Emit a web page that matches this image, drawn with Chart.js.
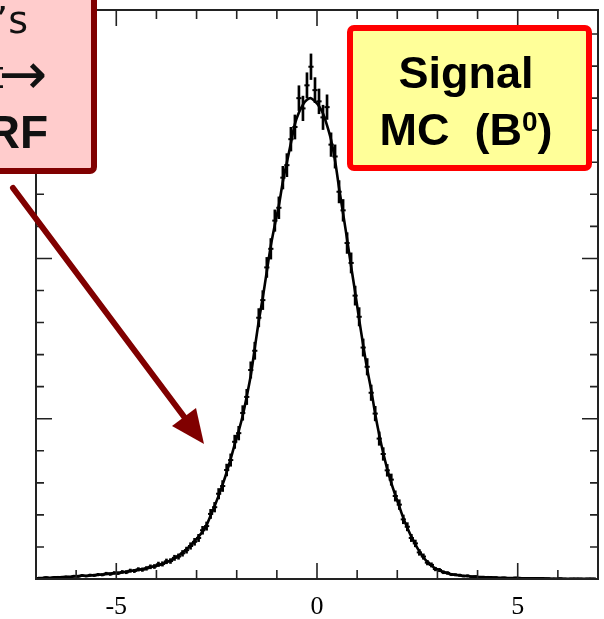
<!DOCTYPE html>
<html>
<head>
<meta charset="utf-8">
<script src="https://cdn.jsdelivr.net/npm/chart.js@4.4.1/dist/chart.umd.min.js"></script>
<style>
  html, body { margin: 0; padding: 0; background: #fff; }
  canvas { display: block; }
</style>
</head>
<body>
<canvas id="chart" width="604" height="619"></canvas>
<script>

// histogram binning (delta t, 140 bins of 0.1 from -7 to 7)
const binStart = -7;
const binWidth = 0.1;

// MC entries per bin
const mcCounts = [
    3, 2, 5, 3, 4, 6, 5, 7, 6, 9,
    8, 11, 9, 12, 11, 14, 13, 17, 15, 19,
    18, 22, 21, 26, 25, 30, 29, 33, 38, 39,
    46, 47, 55, 56, 66, 70, 80, 90, 103, 116,
    128, 152, 165, 203, 224, 266, 290, 340, 371, 428,
    455, 518, 568, 652, 712, 815, 870, 972, 1030, 1118,
    1158, 1252, 1291, 1372, 1410, 1500, 1468, 1540, 1598, 1525,
    1490, 1440, 1472, 1355, 1318, 1208, 1150, 1048, 986, 884,
    818, 722, 662, 581, 516, 438, 390, 339, 310, 259,
    232, 186, 163, 128, 111, 83, 70, 51, 44, 31,
    28, 21, 19, 14, 13, 12, 9, 10, 7, 8,
    6, 5, 6, 4, 5, 3, 4, 3, 2, 4,
    3, 2, 3, 1, 2, 2, 1, 2, 1, 1,
    2, 1, 0, 1, 1, 1, 0, 1, 1, 0
];

// smooth curve through the histogram
const fitCurve = [
    3, 3, 4, 4, 5, 5, 6, 6, 7, 8,
    9, 10, 10, 11, 12, 13, 14, 16, 17, 18,
    19, 21, 23, 25, 27, 29, 31, 34, 37, 40,
    43, 47, 52, 58, 65, 73, 82, 93, 105, 118,
    132, 148, 168, 198, 228, 260, 295, 333, 375, 420,
    462, 510, 570, 635, 720, 805, 878, 960, 1040, 1105,
    1165, 1240, 1300, 1360, 1420, 1455, 1480, 1495, 1500, 1490,
    1475, 1452, 1415, 1370, 1305, 1220, 1140, 1060, 975, 895,
    810, 730, 655, 590, 515, 450, 393, 343, 300, 262,
    226, 190, 160, 132, 108, 86, 68, 53, 42, 33,
    27, 22, 18, 15, 13, 11, 10, 9, 8, 7,
    6, 6, 5, 5, 4, 4, 4, 3, 3, 3,
    3, 2, 2, 2, 2, 2, 2, 1, 1, 1,
    1, 1, 1, 1, 1, 1, 1, 1, 1, 1
];

// axes
const xMin = -7, xMax = 7;
const yMin = 0, yMax = 1775;
const xTickLabels = [-5, 0, 5];
const xMinorStep = 1, xMajorStep = 5;
const yMinorStep = 100, yMajorStep = 500;

const binCenters = mcCounts.map((v, i) => binStart + (i + 0.5) * binWidth);

// frame with inward ticks on all four sides
const frameTicks = {
    id: 'frameTicks',
    afterDatasetsDraw(chart) {
        const { ctx, chartArea: a, scales: { x, y } } = chart;
        ctx.save();
        ctx.strokeStyle = '#222';
        ctx.lineWidth = 2;
        ctx.strokeRect(a.left, a.top, a.right - a.left, a.bottom - a.top);

        ctx.lineWidth = 1.6;
        ctx.beginPath();
        for (let v = Math.ceil(xMin + 0.001); v < xMax; v += xMinorStep) {
            const px = x.getPixelForValue(v);
            const len = v % xMajorStep === 0 ? 16 : 9;
            ctx.moveTo(px, a.bottom); ctx.lineTo(px, a.bottom - len);
            ctx.moveTo(px, a.top); ctx.lineTo(px, a.top + len);
        }
        for (let v = yMinorStep; v < yMax; v += yMinorStep) {
            const py = y.getPixelForValue(v);
            const len = v % yMajorStep === 0 ? 16 : 8;
            ctx.moveTo(a.left, py); ctx.lineTo(a.left + len, py);
            ctx.moveTo(a.right, py); ctx.lineTo(a.right - len, py);
        }
        ctx.stroke();
        ctx.restore();
    }
};

// slide annotations: pink note, yellow label, arrow
const annotations = {
    id: 'annotations',
    afterDraw(chart) {
        const ctx = chart.ctx;
        ctx.save();

        // pink box (cut off by the left/top edge)
        ctx.beginPath();
        ctx.roundRect(-20, -20, 114, 191, 4);
        ctx.fillStyle = '#ffcccc';
        ctx.fill();
        ctx.lineWidth = 6;
        ctx.strokeStyle = '#800000';
        ctx.stroke();

        ctx.fillStyle = '#111';
        ctx.textAlign = 'right';
        ctx.textBaseline = 'alphabetic';
        ctx.font = '38px "DejaVu Sans"';
        ctx.fillText('Belle\u2019s', 28, 33);
        ctx.font = '38px "DejaVu Sans"';
        ctx.fillText('\u0394t', 4, 88);
        ctx.font = '58px "DejaVu Sans"';
        ctx.fillText('\u2192', 47, 94);
        ctx.font = 'bold 46px "Liberation Sans"';
        ctx.fillText('CRF', 48, 148);

        // arrow
        ctx.strokeStyle = '#800000';
        ctx.fillStyle = '#800000';
        ctx.lineWidth = 6;
        ctx.lineCap = 'round';
        ctx.beginPath();
        ctx.moveTo(13, 188);
        ctx.lineTo(185, 418);
        ctx.stroke();
        ctx.beginPath();
        ctx.moveTo(204, 444);
        ctx.lineTo(172, 426);
        ctx.lineTo(196, 408);
        ctx.closePath();
        ctx.fill();

        // yellow box
        ctx.beginPath();
        ctx.roundRect(350, 28, 239, 140, 4);
        ctx.fillStyle = '#ffff99';
        ctx.fill();
        ctx.lineWidth = 6;
        ctx.strokeStyle = '#ff0000';
        ctx.stroke();

        ctx.fillStyle = '#000';
        ctx.textAlign = 'center';
        ctx.font = 'bold 45px "Liberation Sans"';
        ctx.fillText('Signal', 466, 88);

        ctx.textAlign = 'left';
        const big = 'bold 45px "Liberation Sans"';
        const small = 'bold 28px "Liberation Sans"';
        ctx.font = big;
        const w1 = ctx.measureText('MC  (B').width;
        const w3 = ctx.measureText(')').width;
        ctx.font = small;
        const w2 = ctx.measureText('0').width;
        let tx = 466 - (w1 + w2 + w3) / 2;
        ctx.font = big;
        ctx.fillText('MC  (B', tx, 145);
        ctx.font = small;
        ctx.fillText('0', tx + w1, 131);
        ctx.font = big;
        ctx.fillText(')', tx + w1 + w2, 145);

        ctx.restore();
    }
};

const ctx = document.getElementById('chart');

new Chart(ctx, {
    type: 'bar',
    data: {
        datasets: [{
            // error bars
            type: 'bar',
            data: binCenters.map((c, i) => ({ x: c, y: [mcCounts[i] - Math.sqrt(mcCounts[i]), mcCounts[i] + Math.sqrt(mcCounts[i])] })),
            backgroundColor: '#000',
            barThickness: 2,
            grouped: false,
            order: 2
        }, {
            // bin width markers
            type: 'scatter',
            data: binCenters.map((c, i) => ({ x: c, y: mcCounts[i] })),
            pointStyle: 'line',
            pointRadius: 2.6,
            borderWidth: 2,
            borderColor: '#000',
            order: 1
        }, {
            type: 'line',
            data: binCenters.map((c, i) => ({ x: c, y: fitCurve[i] })),
            borderColor: '#000',
            borderWidth: 2.6,
            pointRadius: 0,
            tension: 0.3,
            order: 0
        }]
    },
    options: {
        responsive: false,
        animation: false,
        layout: { padding: { left: 36, right: 0, top: 10, bottom: 0 } },
        scales: {
            x: {
                type: 'linear',
                min: xMin,
                max: xMax,
                offset: false,
                grid: { display: false },
                border: { display: false },
                afterBuildTicks: (scale) => { scale.ticks = xTickLabels.map(v => ({ value: v })); },
                afterFit: (scale) => { scale.height = 40; },
                ticks: {
                    color: '#000',
                    padding: 5,
                    maxRotation: 0,
                    font: { family: '"Liberation Serif"', size: 26 }
                }
            },
            y: {
                type: 'linear',
                min: yMin,
                max: yMax,
                display: false
            }
        },
        plugins: {
            legend: { display: false },
            tooltip: { enabled: false }
        }
    },
    plugins: [frameTicks, annotations]
});
</script>
</body>
</html>
